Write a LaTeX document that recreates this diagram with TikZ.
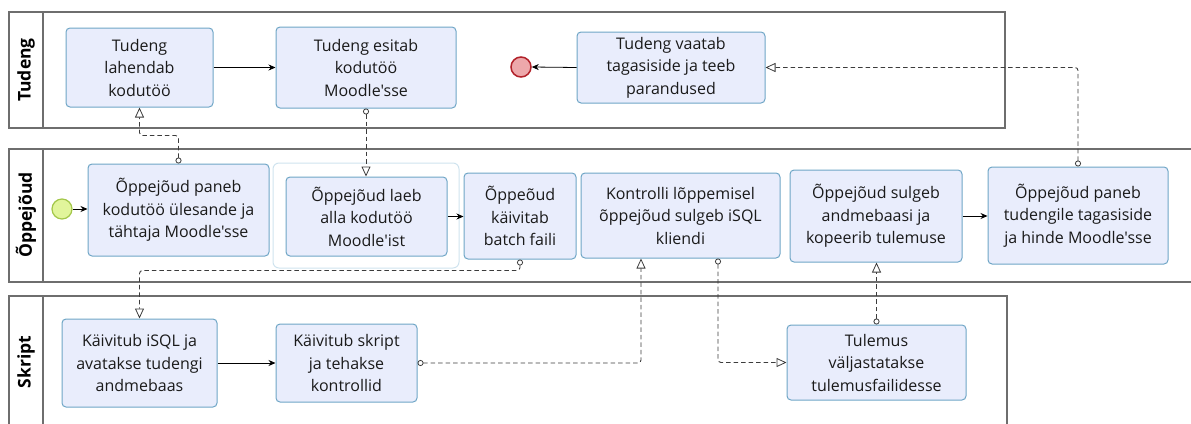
\documentclass[tikz,border=0pt]{standalone}
\usepackage{fontspec}
% plain family: keeps straight apostrophes
\newfontfamily\diagfont{Open Sans}
\usetikzlibrary{arrows.meta}

\definecolor{taskfill}{HTML}{E9EDFC}
\definecolor{taskline}{HTML}{6FA6C6}
\definecolor{poolline}{HTML}{6E6E6E}
\definecolor{groupline}{HTML}{CFE3EE}
\definecolor{endfill}{HTML}{EDA8AB}
\definecolor{endline}{HTML}{B2222A}
\definecolor{startfill}{HTML}{E1F59B}
\definecolor{startline}{HTML}{A3C74A}
\definecolor{msgline}{HTML}{3C3C3C}
\definecolor{txt}{HTML}{1A1A1A}

\tikzset{
  task/.style={draw=taskline, fill=taskfill, line width=1pt, rounded corners=4pt,
    align=center, inner sep=0pt, text=txt,
    font=\diagfont\fontsize{16}{22.5}\selectfont},
  pool/.style={draw=poolline, line width=1.3pt},
  lanelabel/.style={rotate=90, font=\diagfont\bfseries\fontsize{17.5}{19}\selectfont, text=black},
  seqflow/.style={draw=black, line width=0.8pt, -{Stealth[length=7pt,width=6pt]}},
  msgflow/.style={draw=msgline, line width=0.9pt, dash pattern=on 4.5pt off 3pt,
    rounded corners=3pt,
    {Circle[open,length=6pt,width=6pt,fill=white,line width=0.8pt]}-{Triangle[open,length=10pt,width=9pt,fill=white,line width=0.8pt]}},
}

\begin{document}
\begin{tikzpicture}[x=1pt,y=-1pt]
\useasboundingbox (0,0) rectangle (1191,423);
\clip (0,0) rectangle (1191,423);

% pools and their label strips
\draw[pool] (9,12) rectangle (1005,128);
\draw[pool] (43,12) -- (43,128);
\draw[pool] (9,149) rectangle (1210,282);
\draw[pool] (43,149) -- (43,282);
\draw[pool] (9,296) rectangle (1007,440);
\draw[pool] (43,296) -- (43,440);

\node[lanelabel] (lTudeng) at (26,70) {Tudeng};
\node[lanelabel] (lOppejoud) at (26,215) {Õppejõud};
\node[lanelabel] (lSkript) at (26,362) {Skript};

% group around the download task
\draw[draw=groupline, line width=1pt, rounded corners=6pt] (273,163) rectangle (459,268);

% events
\node[circle, draw=endline, fill=endfill, line width=1.5pt, minimum size=20pt, inner sep=0pt] (end) at (521,67) {};
\node[circle, draw=startline, fill=startfill, line width=1.2pt, minimum size=20pt, inner sep=0pt] (start) at (62,209) {};

% Tudeng lane
\node[task, minimum width=147pt, minimum height=79pt] (T1) at (139.5,67.5) {Tudeng\\lahendab\\kodutöö};
\node[task, minimum width=180pt, minimum height=81pt] (T2) at (366,67.5) {Tudeng esitab\\kodutöö\\Moodle's\kern0ptse};
\node[task, minimum width=188pt, minimum height=71pt] (T3) at (671,67.5) {Tudeng vaatab\\tagasiside ja teeb\\parandused};

% Õppejõud lane
\node[task, minimum width=181pt, minimum height=92pt] (O1) at (178.5,210) {Õppejõud paneb\\kodutöö ülesande ja\\tähtaja Moodle'sse};
\node[task, minimum width=161pt, minimum height=79pt] (O2) at (366.5,216.5) {Õppejõud laeb\\alla kodutöö\\Moodle'ist};
\node[task, minimum width=112pt, minimum height=86pt] (O3) at (520,216) {Õppeõud\\käivitab\\batch faili};
\node[task, minimum width=199pt, minimum height=85pt] (O4) at (680.5,215.5) {Kontrolli lõppemisel\\õppejõud sulgeb iSQL\\kliendi};
\node[task, minimum width=172pt, minimum height=92pt] (O5) at (876,216) {Õppejõud sulgeb\\andmebaasi ja\\kopeerib tulemuse};
\node[task, minimum width=180pt, minimum height=97pt] (O6) at (1078,215.5) {Õppejõud paneb\\tudengile tagasiside\\ja hinde Moodle'sse};

% Skript lane
\node[task, minimum width=155pt, minimum height=88pt] (S1) at (139.5,363) {Käivitub iSQL ja\\avatakse tudengi\\andmebaas};
\node[task, minimum width=141pt, minimum height=78pt] (S2) at (346.5,363) {Käivitub skript\\ja tehakse\\kontrollid};
\node[task, minimum width=179pt, minimum height=75pt] (S3) at (876.5,362.5) {Tulemus\\väljastatakse\\tulemusfailidesse};

% sequence flows
\draw[seqflow] (T1.east) -- (T2.west);
\draw[seqflow] (T3.west) -- (end.east);
\draw[seqflow] (start.east) -- (start.east -| O1.west);
\draw[seqflow] (O2.east) -- (O2.east -| O3.west);
\draw[seqflow] (O5.east) -- (O5.east -| O6.west);
\draw[seqflow] (S1.east) -- (S1.east -| S2.west);

% message flows
\draw[msgflow] (O1.north) -- ++(0,-28) -| (T1.south);
\draw[msgflow] (T2.south) -- (T2.south |- O2.north);
\draw[msgflow] (O3.south) -- ++(0,11) -| (S1.north);
\draw[msgflow] (S2.east) -| ([xshift=-39.5pt]O4.south);
\draw[msgflow] ([xshift=37.5pt]O4.south) |- (S3.west);
\draw[msgflow] (S3.north) -- (S3.north |- O5.south);
\draw[msgflow] (O6.north) |- (T3.east);
\end{tikzpicture}
\end{document}
